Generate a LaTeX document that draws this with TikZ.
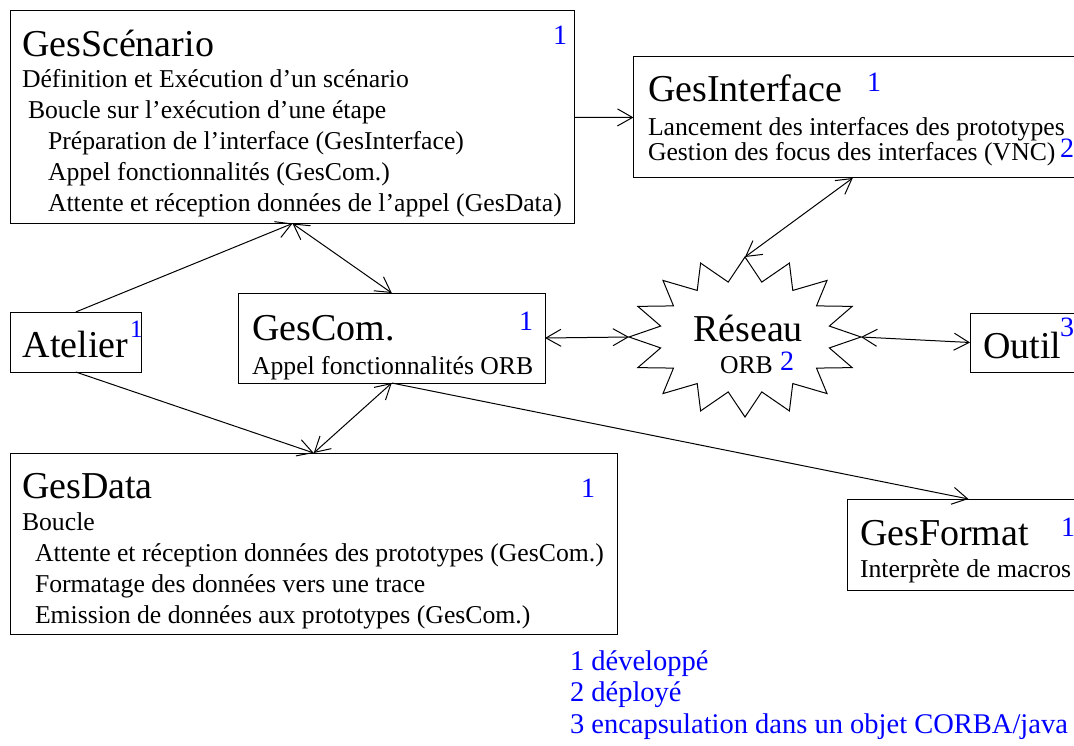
\documentclass[tikz,border=0pt]{standalone}
\usepackage{fontspec}
\setmainfont{Liberation Serif}
\usetikzlibrary{arrows.meta,shapes.geometric}
\newcommand\fTitle{\fontsize{38}{40}\selectfont}
\newcommand\fBody{\fontsize{25.7}{30}\selectfont}
\newcommand\fNum{\fontsize{28}{30}\selectfont}
\newcommand\fSup{\fontsize{25}{26}\selectfont}
\newcommand\fLeg{\fontsize{28.5}{31}\selectfont}
\definecolor{numblue}{RGB}{0,0,255}
\tikzset{
  box/.style={draw, line width=1pt, rectangle, inner sep=0pt, outer sep=0pt, anchor=north west},
  txt/.style={anchor=base west, inner sep=0pt, outer sep=0pt},
  title/.style={txt, font=\fTitle},
  body/.style={txt, font=\fBody},
  num/.style={txt, font=\fNum, text=numblue},
  sup/.style={txt, font=\fSup, text=numblue},
  legend/.style={txt, font=\fLeg, text=numblue},
  conn/.style={line width=1pt},
  >={Straight Barb[length=15pt,width=17pt]}
}
\begin{document}
\begin{tikzpicture}[x=1pt,y=-1pt]
\useasboundingbox (0,0) rectangle (1074,746);
\clip (0,0) rectangle (1074,746);

% GesScenario
\node[box, minimum width=564pt, minimum height=212.5pt] (gs) at (10.5,11) {};
\node[title] (gsT) at (22,57) {GesScénario};
\node[num] (gsN) at (553,45) {1};
\node[body] (gs1) at (22,88) {Définition et Exécution d’un scénario};
\node[body] (gs2) at (28,118.5) {Boucle sur l’exécution d’une étape};
\node[body] (gs3) at (48,150) {Préparation de l’interface (GesInterface)};
\node[body] (gs4) at (48,181) {Appel fonctionnalités (GesCom.)};
\node[body] (gs5) at (48,212) {Attente et réception données de l’appel (GesData)};

% GesInterface
\node[box, minimum width=456.5pt, minimum height=121pt] (gi) at (633.5,57) {};
\node[title] (giT) at (648,102) {GesInterface};
\node[num] (giN) at (867,92) {1};
\node[body] (gi1) at (648,136) {Lancement des interfaces des prototypes};
\node[body] (gi2) at (648,161) {Gestion des focus des interfaces (VNC)};
\node[num] (giN2) at (1060,158) {2};

% Atelier
\node[box, minimum width=130.5pt, minimum height=60pt] (at) at (10.5,312) {};
\node[title] (atT) at (23,357) {Atelier};
\node[sup] (atN) at (130,337) {1};

% GesCom
\node[box, minimum width=306.5pt, minimum height=90pt] (gc) at (238.5,293) {};
\node[title] (gcT) at (252,340) {GesCom.};
\node[num] (gcN) at (519,330) {1};
\node[body] (gc1) at (252,374) {Appel fonctionnalités ORB};

% Reseau (star)
\node[ellipse, inner sep=0pt, outer sep=0pt, minimum width=232pt, minimum height=160pt] (res) at (745,337) {};
\draw[conn, shift={(res.center)}] (0:116 and 80)
  \foreach \k in {0,...,15} { -- (\k*22.5+11.25:86 and 56) -- (\k*22.5+22.5:116 and 80) } -- cycle;
\node[title, anchor=base] (resT) at (748,341) {Réseau};
\node[body] (resO) at (720,373) {ORB};
\node[num] (resN) at (780,370) {2};

% Outil
\node[box, minimum width=120pt, minimum height=59pt] (ou) at (970,313) {};
\node[title] (ouT) at (983,358) {Outil};
\node[num] (ouN) at (1060,336) {3};

% GesData
\node[box, minimum width=606.5pt, minimum height=181.5pt] (gd) at (10.5,453) {};
\node[title] (gdT) at (22,498) {GesData};
\node[num] (gdN) at (581,497) {1};
\node[body] (gd1) at (22,530) {Boucle};
\node[body] (gd2) at (35,561) {Attente et réception données des prototypes (GesCom.)};
\node[body] (gd3) at (35,592) {Formatage des données vers une trace};
\node[body] (gd4) at (35,623) {Emission de données aux prototypes (GesCom.)};

% GesFormat
\node[box, minimum width=243pt, minimum height=91pt] (gf) at (847,499) {};
\node[title] (gfT) at (860,545) {GesFormat};
\node[num] (gfN) at (1061,536) {1};
\node[body] (gf1) at (860,577) {Interprète de macros};

% Legend
\node[legend] (l1) at (570,670) {1 développé};
\node[legend] (l2) at (570,701) {2 déployé};
\node[legend] (l3) at (570,733) {3 encapsulation dans un objet CORBA/java};

% Connectors
\draw[conn,->] (gs.east) -- (gi.west);
\draw[conn,->] (at.north) -- (gs.south);
\draw[conn,<->] (gs.south) -- (gc.north);
\draw[conn,->] (at.south) -- (gd.north);
\draw[conn,<->] (gc.south) -- (gd.north);
\draw[conn,->] (gc.south) -- (gf.north);
\draw[conn,<->] (gc.east) -- (res.west);
\draw[conn,<->] ([xshift=-9pt]gi.south) -- (res.north);
\draw[conn,<->] (res.east) -- (ou.west);
\end{tikzpicture}
\end{document}
